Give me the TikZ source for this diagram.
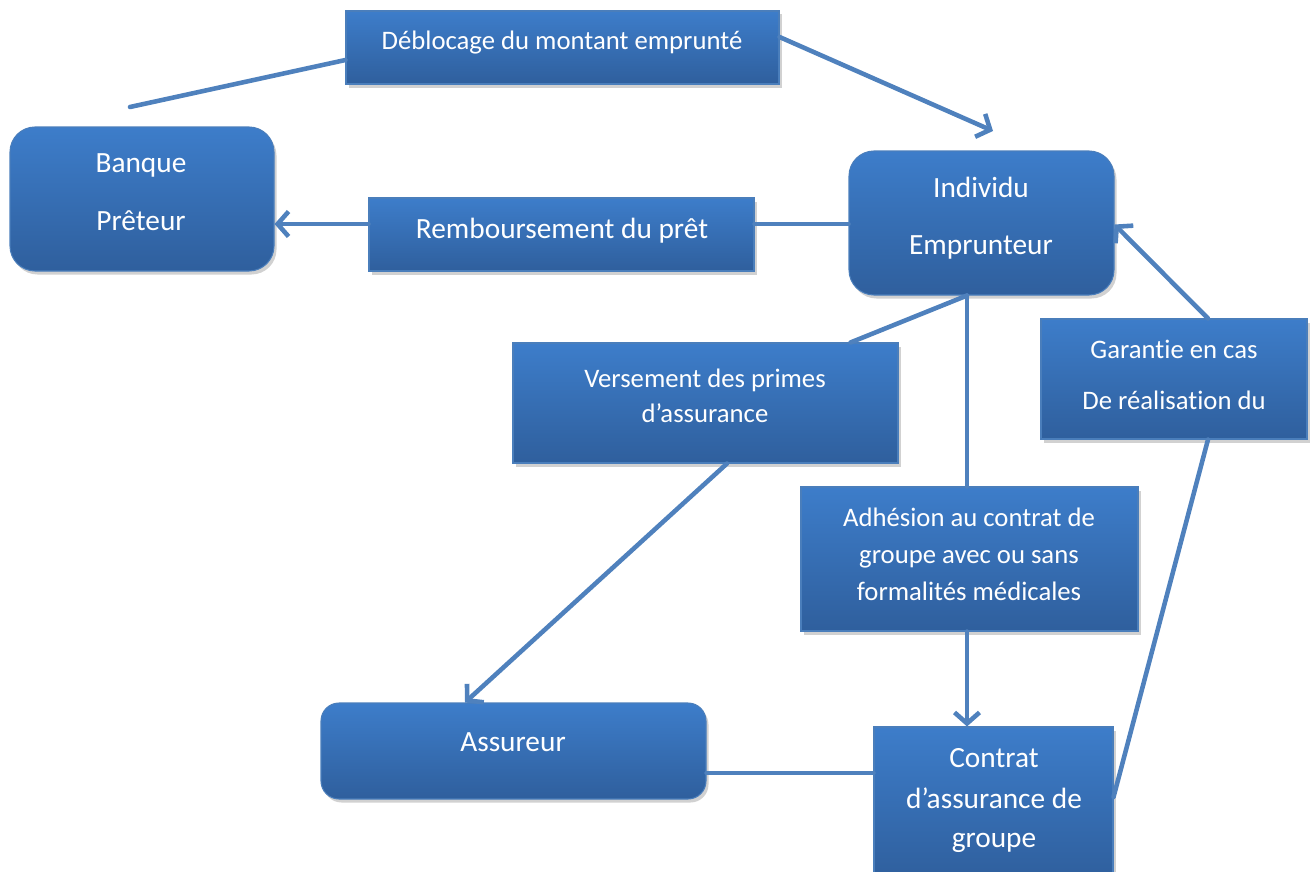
\documentclass[tikz,border=0pt]{standalone}
\usepackage{fontspec}
\setmainfont{Carlito}[Ligatures=NoCommon]
\usetikzlibrary{arrows.meta,fit,shadows}
\definecolor{boxtop}{HTML}{3D7DCA}
\definecolor{boxbot}{HTML}{2F5F9D}
\definecolor{boxedge}{HTML}{4A7EBB}
\definecolor{linkcol}{HTML}{4F81BD}
\tikzset{
  box/.style={inner sep=0pt, draw=boxedge, line width=0.6pt, top color=boxtop, bottom color=boxbot,
    drop shadow={shadow xshift=0.05cm, shadow yshift=-0.07cm, opacity=0.3, fill=black!60}},
  rbox/.style={box, rounded corners=0.5cm},
  rbox2/.style={box, rounded corners=0.36cm},
  txt/.style={text=white, font=\fontsize{16.7}{20}\selectfont, inner sep=0pt, anchor=center,
    text height=0.8em, text depth=0.25em, yshift=-0.1cm},
  stxt/.style={txt, font=\fontsize{15.2}{18}\selectfont},
  link/.style={draw=linkcol, line width=2.6pt, line cap=round},
  arr/.style={link, -{Straight Barb[length=0.22cm, width=0.5cm, line width=2.6pt]}},
}
\begin{document}
\begin{tikzpicture}[x=0.02cm, y=-0.02cm]
\useasboundingbox (0,0) rectangle (1312,872);
% boxes
\node[box, fit={(346,11) (779,84)}] (deb) {};
\node[rbox, fit={(10,127) (274,271)}] (ban) {};
\node[box, fit={(369,198) (754,271)}] (rem) {};
\node[rbox, fit={(849,151) (1114,295)}] (ind) {};
\node[box, fit={(513,343) (898,463)}] (ver) {};
\node[box, fit={(1041,319) (1307,439)}] (gar) {};
\node[box, fit={(801,487) (1138,631)}] (adh) {};
\node[rbox2, fit={(321,703) (706,799)}] (ass) {};
\node[box, fit={(874,727) (1113,880)}] (con) {};
% texts
\node[stxt] (tdeb) at (562,40) {Déblocage du montant emprunté};
\node[txt] (tban1) at (141,163) {Banque};
\node[txt] (tban2) at (141,221) {Prêteur};
\node[txt] (trem) at (562,229) {Remboursement du prêt};
\node[txt] (tind1) at (981,188) {Individu};
\node[txt] (tind2) at (981,245) {Emprunteur};
\node[stxt] (tver1) at (705,378) {Versement des primes};
\node[stxt] (tver2) at (705,413) {d’assurance};
\node[stxt] (tgar1) at (1174,349) {Garantie en cas};
\node[stxt] (tgar2) at (1174,400) {De réalisation du};
\node[stxt] (tadh1) at (969,517) {Adhésion au contrat de};
\node[stxt] (tadh2) at (969,554) {groupe avec ou sans};
\node[stxt] (tadh3) at (969,591) {formalités médicales};
\node[txt] (tass) at (513,742) {Assureur};
\node[txt] (tcon1) at (994,758) {Contrat};
\node[txt] (tcon2) at (994,799) {d’assurance de};
\node[txt] (tcon3) at (994,838) {groupe};
% free ends
\coordinate (free1) at (130,107);
\coordinate (free2) at (993,131);
% connectors
\draw[link] ([yshift=-0.25cm]deb.west) -- (free1);
\draw[arr] ([yshift=0.21cm]deb.east) -- (free2);
\coordinate (remr) at ([yshift=0.21cm]rem.east);
\coordinate (reml) at ([yshift=0.21cm]rem.west);
\draw[link] (remr -| ind.west) -- (remr);
\draw[arr] (reml) -- (reml -| ban.east);
\coordinate (indb) at ([xshift=-0.29cm]ind.south);
\draw[link] (indb) -- ([xshift=-0.96cm]ver.north east);
\draw[link] (indb) -- (indb |- adh.north);
\draw[arr] ([xshift=0.43cm]ver.south) -- ([xshift=-0.97cm]ass.north);
\coordinate (adhb) at ([xshift=-0.05cm]adh.south);
\draw[arr] (adhb) -- (adhb |- con.north);
\coordinate (assr) at ([yshift=-0.44cm]ass.east);
\draw[link] (assr) -- (assr -| con.west);
\draw[link] ([yshift=0.13cm]con.east) -- ([xshift=0.68cm]gar.south);
\draw[arr] ([xshift=0.68cm]gar.north) -- ([yshift=-0.03cm]ind.east);
\end{tikzpicture}
\end{document}
